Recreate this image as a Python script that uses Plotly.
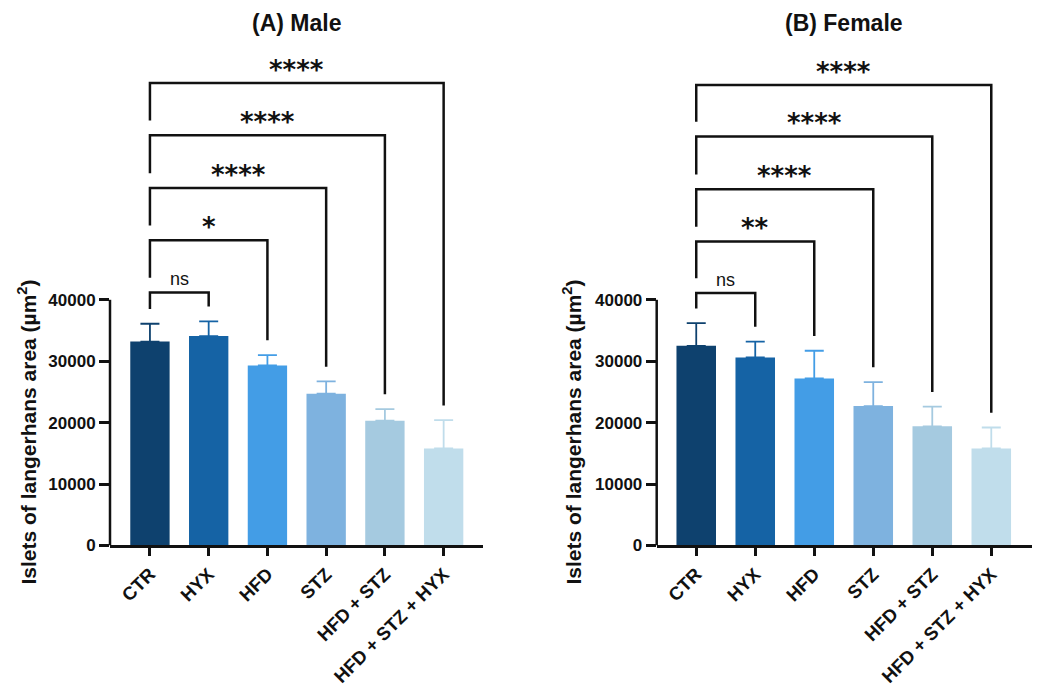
import plotly.graph_objects as go

groups = ["CTR", "HYX", "HFD", "STZ", "HFD + STZ", "HFD + STZ + HYX"]
colors = ["#0E416E", "#1563A5", "#439DE6", "#7EB2DF", "#A5CAE0", "#C0DDEB"]

male_mean = [33200, 34100, 29300, 24700, 20300, 15800]
male_err = [2900, 2400, 1700, 2000, 1900, 4600]
female_mean = [32500, 30600, 27200, 22700, 19400, 15800]
female_err = [3700, 2600, 4500, 3900, 3200, 3400]

# comparisons: (group index vs CTR, label)
male_comp = [1, 2, 3, 4, 5]
male_labels = ["ns", "*", "****", "****", "****"]
male_levels = [41200, 49700, 58200, 66800, 75300]
female_comp = [1, 2, 3, 4, 5]
female_labels = ["ns", "**", "****", "****", "****"]
female_levels = [41100, 49500, 58000, 66600, 75000]

y_ticks = [0, 10000, 20000, 30000, 40000]
y_ticktext = ["0", "10000", "20000", "30000", "40000"]

titles = ["(A) Male", "(B) Female"]
ytitle = "Islets of langerhans area (µm<sup>2</sup>)"

FONT = "Liberation Sans, Arial, sans-serif"
W, H = 1040, 687
VS = 1 / 0.995
Y0_PX, YTOP_PX = 550.7 * VS, 40.0 * VS
PX_PER_UNIT = 62.0 * VS / 10000
YMAX = (Y0_PX - YTOP_PX) / PX_PER_UNIT
ydom = [1 - Y0_PX / H, 1 - YTOP_PX / H]
xdoms = [[110 / W, 483 / W], [656.7 / W, 1031.7 / W]]
xranges = [[-0.68, 5.67], [-0.67, 5.685]]
GAP = 2400

fig = go.Figure()
panels = [
    (male_mean, male_err, male_comp, male_labels, male_levels),
    (female_mean, female_err, female_comp, female_labels, female_levels),
]

shapes = []
annotations = []
for p, (means, errs, comp, labels, levels) in enumerate(panels):
    xa = "x" if p == 0 else "x2"
    ya = "y" if p == 0 else "y2"
    for i, g in enumerate(groups):
        fig.add_trace(go.Bar(
            x=[i], y=[means[i]], xaxis=xa, yaxis=ya,
            marker=dict(color=colors[i], line=dict(width=0)),
            width=0.67,
            error_y=dict(type="data", symmetric=False, array=[errs[i]], arrayminus=[0],
                         color=colors[i], thickness=1.8, width=9.5),
            showlegend=False, hoverinfo="skip",
        ))
    caps = [m + e for m, e in zip(means, errs)]
    for k, (j, lab, lev) in enumerate(zip(comp, labels, levels)):
        left_bottom = (levels[k - 1] if k > 0 else caps[0]) + GAP
        right_bottom = caps[j] + GAP
        shapes.append(dict(
            type="path", xref=xa, yref=ya,
            path=f"M 0,{left_bottom} L 0,{lev} L {j},{lev} L {j},{right_bottom}",
            line=dict(color="#111111", width=2.5),
        ))
        is_ns = lab == "ns"
        annotations.append(dict(
            x=j / 2, y=lev, xref=xa, yref=ya, text=lab, showarrow=False,
            xanchor="center", yanchor="bottom", yshift=1 if is_ns else -4,
            font=dict(family=FONT if is_ns else "DejaVu Sans, sans-serif",
                      size=18 if is_ns else 26, color="#111111",
                      weight="normal" if is_ns else "bold"),
        ))
    # y axis line only up to 40000
    shapes.append(dict(type="line", xref=f"{xa} domain", yref=ya, x0=0, x1=0,
                       y0=0, y1=y_ticks[-1], line=dict(color="#111111", width=2.5)))
    xd = xdoms[p]
    annotations.append(dict(
        x=(xd[0] + xd[1]) / 2, y=1 - 23.5 * VS / H, xref="paper", yref="paper",
        text=f"<b>{titles[p]}</b>", showarrow=False, xanchor="center", yanchor="middle",
        font=dict(family=FONT, size=23, color="#111111"),
    ))
    ytx = [27, 572][p]
    annotations.append(dict(
        x=ytx / W, y=1 - 436.7 * VS / H, xref="paper", yref="paper", textangle=-90,
        text=f"<b>{ytitle}</b>", showarrow=False, xanchor="center", yanchor="middle",
        font=dict(family=FONT, size=21, color="#111111"),
    ))

axis_common_x = dict(
    tickmode="array", tickvals=list(range(len(groups))), ticktext=groups,
    tickangle=-45, ticks="outside", ticklen=8, tickwidth=2.5, tickcolor="#111111",
    showline=True, linewidth=2.5, linecolor="#111111", showgrid=False, zeroline=False,
    tickfont=dict(family=FONT, size=18.5, color="#111111", weight="bold"),
)
axis_common_y = dict(
    tickmode="array", tickvals=y_ticks, ticktext=y_ticktext, range=[0, YMAX],
    ticks="outside", ticklen=10, tickwidth=2.5, tickcolor="#111111",
    showline=False, showgrid=False, zeroline=False, domain=ydom,
    tickfont=dict(family=FONT, size=17, color="#111111", weight="bold"),
)

fig.update_layout(
    width=W, height=H, autosize=False, margin=dict(l=0, r=0, t=0, b=0),
    paper_bgcolor="white", plot_bgcolor="white", barmode="overlay",
    xaxis=dict(axis_common_x, domain=xdoms[0], range=xranges[0], anchor="y"),
    yaxis=dict(axis_common_y, anchor="x"),
    xaxis2=dict(axis_common_x, domain=xdoms[1], range=xranges[1], anchor="y2"),
    yaxis2=dict(axis_common_y, anchor="x2"),
    shapes=shapes, annotations=annotations,
)

fig.write_html(
    "out.html", config={"displayModeBar": False, "responsive": False},
    post_script="document.body.style.margin='0';",
)
